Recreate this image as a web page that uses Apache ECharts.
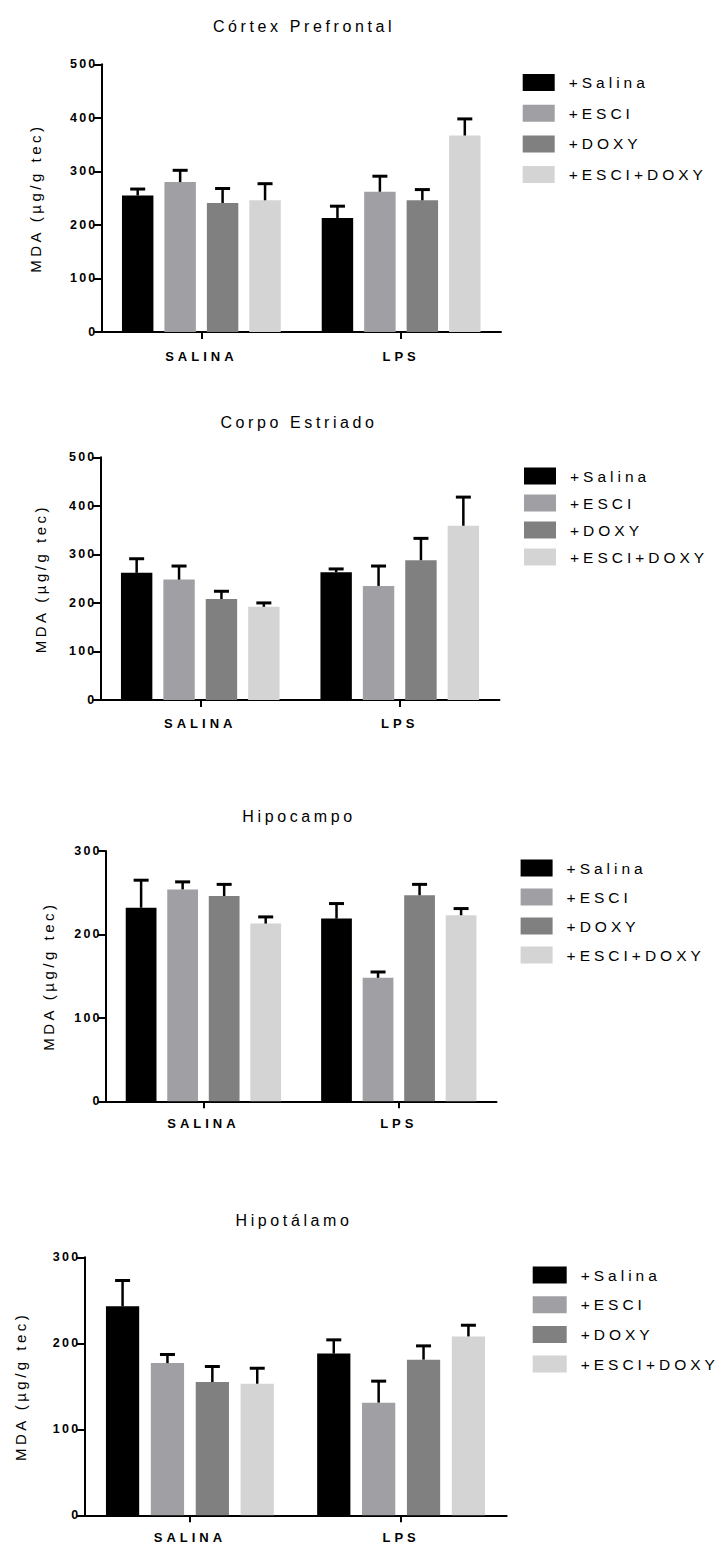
<!DOCTYPE html>
<html>
<head>
<meta charset="utf-8">
<script src="https://cdn.jsdelivr.net/npm/echarts@6/dist/echarts.min.js"></script>
<style>
  html, body { margin: 0; padding: 0; background: #ffffff; }
  #chart { width: 724px; height: 1544px; }
  /* spaced-out lettering used throughout the figure */
  #chart text { letter-spacing: 3px; }
  #chart text[style*="16px"] { letter-spacing: 3.6px; }
  #chart text[style*="15px"] { letter-spacing: 3.5px; }
  #chart text[style*="15.5px"] { letter-spacing: 4px; }
  #chart text[style*="13px"] { letter-spacing: 4px; }
  #chart text[style*="12.5px"] { letter-spacing: 2.2px; }
</style>
</head>
<body>
<div id="chart"></div>
<script>
// Groups on the x axis and the four treatments shown as bars
const categories = ['SALINA', 'LPS'];
const treatments = ['+Salina', '+ESCI', '+DOXY', '+ESCI+DOXY'];
const colors = ['#000000', '#a0a0a4', '#808080', '#d4d4d4'];

// Brain regions, one panel each
const regionTitles = ['Córtex Prefrontal', 'Corpo Estriado', 'Hipocampo', 'Hipotálamo'];
const yAxisName = 'MDA (µg/g tec)';
const yMax = [500, 500, 300, 300];
const yStep = 100;

// MDA means, one row per treatment: [SALINA, LPS]
const cortexMean   = [[255, 213], [280, 262], [241, 246], [246, 367]];
const striatumMean = [[262, 263], [248, 235], [208, 288], [192, 359]];
const hippoMean    = [[232, 219], [254, 148], [246, 247], [213, 223]];
const hypoMean     = [[243, 188], [177, 131], [155, 181], [153, 208]];

// Standard errors (upper bar only), same layout as the means
const cortexSem    = [[12, 22], [22, 29], [27, 20], [31, 31]];
const striatumSem  = [[29, 7], [28, 41], [16, 45], [8, 59]];
const hippoSem     = [[33, 18], [9, 7], [14, 13], [8, 8]];
const hypoSem      = [[30, 16], [10, 25], [18, 16], [18, 13]];

const means = [cortexMean, striatumMean, hippoMean, hypoMean];
const sems = [cortexSem, striatumSem, hippoSem, hypoSem];

// Panel geometry (pixels)
const panels = [
  { left: 101.5, top: 64.3,   width: 399.5, height: 267.7, titleX: 304, titleY: 18,    nameGap: 59, lgLeft: 522.7, lgTop: 74,     lgW: 32, lgGap: 13.7, catMargin: 18 },
  { left: 100.5, top: 457.3,  width: 399,   height: 242.7, titleX: 299, titleY: 414.7, nameGap: 53, lgLeft: 524,   lgTop: 467.5,  lgW: 32, lgGap: 10,   catMargin: 17 },
  { left: 105.7, top: 851,    width: 390.8, height: 250.3, titleX: 299, titleY: 808,   nameGap: 50, lgLeft: 520.6, lgTop: 859.5,  lgW: 32, lgGap: 12,   catMargin: 16 },
  { left: 84.3,  top: 1257.3, width: 422.4, height: 258,   titleX: 294, titleY: 1212,  nameGap: 56, lgLeft: 532.7, lgTop: 1266.5, lgW: 34, lgGap: 12.7, catMargin: 16 }
];

const FONT = "'Liberation Sans', Arial, sans-serif";
const CAT_GAP = 0.205;
const BAR_GAP = 0.35;

const titles = [], grids = [], xAxes = [], yAxes = [], legends = [], series = [];

panels.forEach(function (p, i) {
  titles.push({
    text: regionTitles[i], left: p.titleX, top: p.titleY, textAlign: 'center', padding: 0,
    textStyle: { fontFamily: FONT, fontSize: 16, fontWeight: 'normal', color: '#000' }
  });
  grids.push({ left: p.left, top: p.top, width: p.width, height: p.height, containLabel: false, outerBoundsMode: 'none' });
  xAxes.push({
    gridIndex: i, type: 'category', data: categories,
    axisLine: { show: true, lineStyle: { color: '#000', width: 2 } },
    axisTick: { show: true, alignWithLabel: true, length: 7, lineStyle: { color: '#000', width: 2 } },
    axisLabel: { color: '#000', fontFamily: FONT, fontWeight: 'bold', fontSize: 13, margin: p.catMargin },
    splitLine: { show: false }
  });
  yAxes.push({
    gridIndex: i, type: 'value', min: 0, max: yMax[i], interval: yStep,
    name: yAxisName, nameLocation: 'middle', nameGap: p.nameGap, nameRotate: 90,
    nameTextStyle: { color: '#000', fontFamily: FONT, fontSize: 15 },
    axisLine: { show: true, lineStyle: { color: '#000', width: 2 } },
    axisTick: { show: true, length: 8, lineStyle: { color: '#000', width: 2 } },
    axisLabel: { color: '#000', fontFamily: FONT, fontWeight: 'bold', fontSize: 12.5, margin: 4 },
    splitLine: { show: false }
  });
  legends.push({
    orient: 'vertical', left: p.lgLeft, top: p.lgTop, padding: 0,
    itemWidth: p.lgW, itemHeight: 17, itemGap: p.lgGap, icon: 'rect',
    selectedMode: false, data: treatments,
    textStyle: { color: '#000', fontFamily: FONT, fontSize: 15.5, padding: [0, 0, 0, 9] }
  });

  treatments.forEach(function (t, k) {
    series.push({
      type: 'bar', name: t, xAxisIndex: i, yAxisIndex: i,
      data: means[i][k],
      barCategoryGap: (CAT_GAP * 100) + '%', barGap: (BAR_GAP * 100) + '%',
      itemStyle: { color: colors[k] },
      emphasis: { disabled: true }, animation: false
    });
  });

  // Upper error bars, placed on the same category scale as the bars
  const errData = [];
  treatments.forEach(function (t, k) {
    categories.forEach(function (c, j) {
      errData.push([j, means[i][k][j], sems[i][k][j], k]);
    });
  });
  series.push({
    type: 'custom', name: 'SEM', xAxisIndex: i, yAxisIndex: i, z: 5, clip: false,
    silent: true, animation: false,
    encode: { x: 0, y: 1 },
    data: errData,
    renderItem: function (params, api) {
      const cat = api.value(0), mean = api.value(1), sem = api.value(2), k = api.value(3);
      const base = api.coord([cat, mean]);
      const top = api.coord([cat, mean + sem]);
      const band = api.size([1, 0])[0];
      const used = band * (1 - CAT_GAP);
      const bw = used / (4 + 3 * BAR_GAP);
      const x = base[0] - used / 2 + k * bw * (1 + BAR_GAP) + bw / 2;
      return {
        type: 'group',
        children: [
          { type: 'line', shape: { x1: x, y1: base[1], x2: x, y2: top[1] }, style: { stroke: '#000', lineWidth: 2.5 } },
          { type: 'line', shape: { x1: x - 7.5, y1: top[1], x2: x + 7.5, y2: top[1] }, style: { stroke: '#000', lineWidth: 3 } }
        ]
      };
    }
  });
});

const chart = echarts.init(document.getElementById('chart'), null, { renderer: 'svg', width: 724, height: 1544 });
chart.setOption({
  backgroundColor: '#ffffff',
  animation: false,
  title: titles,
  grid: grids,
  xAxis: xAxes,
  yAxis: yAxes,
  legend: legends,
  series: series
});
</script>
</body>
</html>
